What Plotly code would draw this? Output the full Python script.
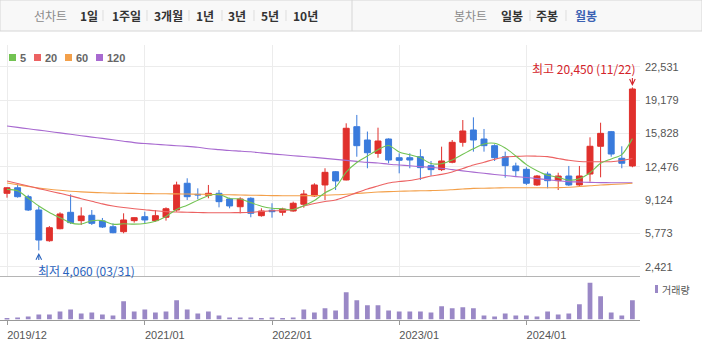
import plotly.graph_objects as go

W, H = 702, 344

# ---------------- data (monthly, 2019/12 .. 2024/11) ----------------
months = [f"{y}/{m:02d}" for y in range(2019, 2025) for m in range(1, 13)]
months = months[months.index("2019/12"):months.index("2024/11") + 1]

opens = [9800, 10360, 9460, 8120, 5030, 6240, 7890, 7050, 7590, 7020,
         6440, 5940, 7050, 7450, 7050, 7390, 8120, 10810, 9700, 9600,
         9800, 9230, 8450, 9300, 7550, 8100, 7890, 8020, 8700, 9530,
         10640, 11970, 11140, 16500, 15160, 13820, 15260, 13380, 13380, 13480,
         12580, 12180, 12920, 14930, 16170, 15260, 14590, 13480, 12550, 12210,
         10640, 11740, 11070, 11540, 10640, 11740, 14530, 16000, 13320, 12550]
closes = [10360, 9460, 8120, 5100, 6340, 7720, 6850, 7520, 6780, 6410,
          5840, 7120, 7350, 7120, 7550, 8250, 10640, 9460, 9640, 9800,
          8960, 8530, 9230, 7790, 8020, 7950, 8220, 8800, 9730, 10640,
          11910, 11040, 16340, 14590, 13880, 15060, 13150, 13120, 13150, 12380,
          12180, 13050, 14930, 16070, 15160, 14590, 13380, 12580, 12070, 10810,
          11540, 11070, 11540, 10640, 11540, 14530, 15830, 13750, 12820, 20290]
highs = [10400, 10700, 9650, 8500, 6500, 7890, 9700, 8390, 8120, 7320,
         6780, 7790, 7390, 7950, 8120, 8390, 10970, 11310, 10300, 10640,
         10130, 9360, 9400, 9400, 8290, 8800, 8350, 8960, 10130, 10810,
         12320, 12040, 16840, 17680, 16010, 16400, 15330, 13820, 13820, 14230,
         13050, 14490, 15160, 17170, 17440, 16270, 14730, 13990, 12880, 12420,
         11640, 11970, 11870, 12550, 12550, 15430, 16900, 16070, 14530, 20450]
lows = [9360, 9360, 8020, 4060, 4930, 6180, 6710, 6610, 6610, 6310,
        5780, 5780, 6850, 6780, 6950, 7050, 7950, 9130, 9200, 9300,
        8390, 8290, 7790, 7390, 7450, 7350, 7550, 7950, 8350, 9430,
        9130, 10130, 11100, 13480, 12320, 13380, 12810, 11810, 12320, 11140,
        11570, 12040, 12820, 14490, 13990, 13990, 13050, 11370, 11540, 10640,
        10540, 10300, 10130, 10540, 10540, 10970, 11410, 13480, 12320, 12420]

ma5 = [10200, 10060, 9300, 8520, 7876, 7348, 6826, 6706, 7042, 7056,
       6680, 6734, 6700, 6768, 6996, 7478, 8182, 8604, 9108, 9558,
       9700, 9278, 9232, 8862, 8506, 8304, 8242, 8156, 8544, 9068,
       9860, 10424, 11932, 12904, 13552, 14182, 14604, 13960, 13672, 13372,
       12796, 12776, 13138, 13722, 14278, 14760, 14826, 14356, 13556, 12686,
       12076, 11614, 11406, 11120, 11266, 11864, 12816, 13258, 13694, 15300]
ma20 = [11038, 10787, 10535, 10274, 10032, 9791, 9540, 9258, 8997, 8735,
        8524, 8373, 8253, 8152, 8041, 7960, 7920, 7900, 7870, 7850,
        7850, 7850, 7860, 7890, 7970, 8040, 8060, 8170, 8524, 8775,
        8976, 9127, 9480, 9870, 10234, 10535, 10837, 10988, 11088, 11289,
        11541, 11702, 11943, 12295, 12647, 12929, 13220, 13452, 13510, 13552,
        13530, 13490, 13300, 13120, 13000, 12970, 12970, 12980, 13100, 13300]
ma60 = [10837, 10656, 10485, 10334, 10203, 10103, 10012, 9942, 9892, 9852,
        9821, 9801, 9791, 9771, 9761, 9751, 9741, 9731, 9711, 9690,
        9670, 9650, 9630, 9610, 9590, 9570, 9560, 9550, 9560, 9570,
        9600, 9650, 9700, 9780, 9861, 9932, 9972, 10002, 10032, 10052,
        10072, 10103, 10163, 10233, 10294, 10314, 10334, 10354, 10354, 10354,
        10354, 10354, 10374, 10414, 10485, 10555, 10636, 10686, 10736, 10807]
ma120 = [16569, 16428, 16288, 16157, 16016, 15875, 15735, 15594, 15453, 15322,
         15181, 15040, 14900, 14809, 14739, 14659, 14588, 14518, 14427, 14286,
         14196, 14105, 14045, 13975, 13864, 13763, 13673, 13582, 13502, 13411,
         13311, 13210, 13110, 13009, 12908, 12848, 12727, 12647, 12567, 12486,
         12406, 12315, 12184, 12054, 11933, 11812, 11691, 11591, 11480, 11390,
         11279, 11168, 11068, 10977, 10937, 10897, 10877, 10867, 10867, 10867]
volumes = [20, 60, 90, 150, 150, 240, 300, 180, 210, 150,
           120, 540, 240, 300, 210, 240, 570, 300, 180, 240,
           120, 60, 60, 60, 40, 60, 30, 60, 300, 210,
           330, 270, 810, 570, 420, 420, 270, 240, 240, 240,
           210, 390, 330, 360, 330, 120, 90, 180, 120, 120,
           90, 240, 150, 180, 450, 1090, 690, 210, 120, 570]

price_ticks = [2421, 5773, 9124, 12476, 15828, 19179, 22531]
date_ticks = ["2019/12", "2021/01", "2022/01", "2023/01", "2024/01"]

# ---------------- styles ----------------
RED = "#e0302c"
BLUE = "#3a7bdc"
C5, C20, C60, C120 = "#72c352", "#ec6262", "#f3a04a", "#a86ad0"
VOLC = "#9a88c6"
KR = "Noto Sans CJK KR"
NUM = "Liberation Sans, Arial, sans-serif"

idx = list(range(len(months)))
tick_idx = [months.index(d) for d in date_ticks]


def px(x):
    return x / W


def py(y):
    return 1 - y / H


fig = go.Figure()

fig.add_trace(go.Candlestick(
    x=idx, open=opens, high=highs, low=lows, close=closes,
    increasing=dict(line=dict(color=RED, width=1), fillcolor=RED),
    decreasing=dict(line=dict(color=BLUE, width=1), fillcolor=BLUE),
    whiskerwidth=0, xaxis="x", yaxis="y", hoverinfo="skip"))

for vals, col in [(ma120, C120), (ma60, C60), (ma20, C20), (ma5, C5)]:
    fig.add_trace(go.Scatter(x=idx, y=vals, mode="lines",
                             line=dict(color=col, width=1.1, shape="spline", smoothing=0.8),
                             xaxis="x", yaxis="y", hoverinfo="skip"))

fig.add_trace(go.Bar(x=idx, y=volumes, marker=dict(color=VOLC, line=dict(width=0)),
                     width=0.45, xaxis="x2", yaxis="y2", hoverinfo="skip"))

XR = [-7 / 10.6, 633 / 10.6]
fig.update_layout(
    width=W, height=H, autosize=False,
    margin=dict(l=0, r=0, t=0, b=0, pad=0),
    paper_bgcolor="white", plot_bgcolor="white",
    showlegend=False, boxgap=0.2, boxgroupgap=0.3,
    xaxis=dict(domain=[0, px(640)], range=XR, anchor="y",
               showgrid=True, gridcolor="#ececec", gridwidth=1,
               tickvals=tick_idx, showticklabels=False, ticks="",
               showline=True, linecolor="#b5b5b5", linewidth=1,
               zeroline=False, rangeslider=dict(visible=False), fixedrange=True),
    yaxis=dict(domain=[py(276), py(45)], range=[1484, 24715], side="right",
               tickvals=price_ticks, ticktext=[f"{v:,}" for v in price_ticks],
               showgrid=True, gridcolor="#ececec", gridwidth=1, zeroline=False,
               tickfont=dict(family=NUM, size=11, color="#555"),
               ticks="", ticklabelstandoff=4, showline=False, fixedrange=True),
    xaxis2=dict(domain=[0, px(640)], range=XR, anchor="y2", matches="x",
                showgrid=False, tickvals=tick_idx, ticktext=date_ticks,
                ticks="outside", ticklen=4, tickcolor="#999",
                tickfont=dict(family=NUM, size=11, color="#555"),
                ticklabelshift=20, ticklabelstandoff=1,
                showline=True, linecolor="#999", linewidth=1, zeroline=False,
                fixedrange=True),
    yaxis2=dict(domain=[py(319.5), py(276)], range=[0, 1290], side="right",
                showgrid=False, showticklabels=False, ticks="", zeroline=False,
                showline=False, fixedrange=True),
)

shapes = []
anns = []

# header bar
shapes.append(dict(type="rect", xref="paper", yref="paper", x0=0, x1=1,
                   y0=py(31), y1=py(0), fillcolor="#f8f8f8",
                   line=dict(color="#d6d6d6", width=1), layer="below"))
shapes.append(dict(type="line", xref="paper", yref="paper", x0=px(352), x1=px(352),
                   y0=py(31), y1=py(0), line=dict(color="#d6d6d6", width=1)))
for sx in [103, 147, 189, 222, 254, 286, 530, 566]:
    shapes.append(dict(type="line", xref="paper", yref="paper", x0=px(sx), x1=px(sx),
                       y0=py(21), y1=py(10), line=dict(color="#dddddd", width=1)))

header = [("선차트", 50, "#8a8a8a", False), ("1일", 89, "#333", True),
          ("1주일", 126, "#333", True), ("3개월", 168, "#333", True),
          ("1년", 205, "#333", True), ("3년", 237, "#333", True),
          ("5년", 270, "#333", True), ("10년", 305, "#333", True),
          ("봉차트", 470, "#8a8a8a", False), ("일봉", 512, "#333", True),
          ("주봉", 547, "#333", True), ("월봉", 586, "#3c62b3", True)]
for t, cx, col, bold in header:
    anns.append(dict(text=f"<b>{t}</b>" if bold else t, xref="paper", yref="paper",
                     x=px(cx), y=py(15.5), xanchor="center", yanchor="middle",
                     showarrow=False, font=dict(family=KR, size=12, color=col)))

# MA legend
for (lab, col, x0, tx) in [("5", C5, 9, 18), ("20", C20, 34, 43),
                           ("60", C60, 65, 74), ("120", C120, 96, 105)]:
    shapes.append(dict(type="rect", xref="paper", yref="paper", x0=px(x0), x1=px(x0 + 7),
                       y0=py(61), y1=py(54), fillcolor=col, line=dict(width=0)))
    anns.append(dict(text=f"<b>{lab}</b>", xref="paper", yref="paper", x=px(tx), y=py(57.7),
                     xanchor="left", yanchor="middle", showarrow=False,
                     font=dict(family=NUM, size=11, color="#666")))

# volume legend
shapes.append(dict(type="rect", xref="paper", yref="paper", x0=px(655), x1=px(658),
                   y0=py(293), y1=py(285), fillcolor=VOLC, line=dict(width=0)))
anns.append(dict(text="거래량", xref="paper", yref="paper", x=px(660), y=py(289),
                 xanchor="left", yanchor="middle", showarrow=False,
                 font=dict(family=KR, size=10, color="#555")))

# high / low labels
hi_i = highs.index(max(highs))
lo_i = lows.index(min(lows))
HI_C, LO_C = "#d4232b", "#2a63bd"
anns.append(dict(text=f"최고 {max(highs):,} (11/22)", xref="paper", yref="paper",
                 x=px(638), y=py(68), xanchor="right", yanchor="middle", showarrow=False,
                 font=dict(family=KR, size=12, color=HI_C)))
anns.append(dict(text="", xref="x", yref="y", x=hi_i, y=max(highs),
                 showarrow=True, ax=0, ay=-11, standoff=1.5,
                 arrowhead=5, arrowsize=1, arrowwidth=1.1, arrowcolor=HI_C))
anns.append(dict(text=f"최저 {min(lows):,} (03/31)", xref="paper", yref="paper",
                 x=px(36), y=py(270), xanchor="left", yanchor="middle", showarrow=False,
                 font=dict(family=KR, size=12, color=LO_C)))
anns.append(dict(text="", xref="x", yref="y", x=lo_i, y=min(lows),
                 showarrow=True, ax=0, ay=11, standoff=2.5,
                 arrowhead=5, arrowsize=1, arrowwidth=1.1, arrowcolor=LO_C))

fig.update_layout(shapes=shapes, annotations=anns)
fig.write_html("out.html")
